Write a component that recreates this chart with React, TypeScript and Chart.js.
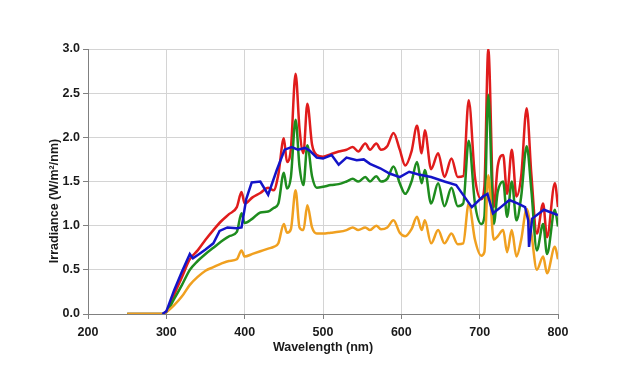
import React, { useEffect, useRef } from "react";
import { Chart, registerables } from "chart.js";

Chart.register(...registerables);

// Shared wavelength grid (nm) for the three spectral series
const wavelengths = [
  250, 280, 295, 300, 310, 320, 330, 340, 350, 360, 370, 380, 390, 396, 400, 410,
  420, 430, 437, 443, 450, 454, 459, 465, 470, 475, 480, 486, 492, 500, 510, 520,
  530, 538, 545, 554, 560, 568, 574, 582, 590, 598, 605, 613, 620, 626, 630, 638,
  647, 655, 664, 672, 679, 686, 694, 702, 706, 711, 718, 723, 730, 735, 741, 747,
  753, 760, 766, 773, 781, 786, 796, 800,
];

const redSeries = [
  0, 0, 0, 0.03, 0.22, 0.42, 0.62, 0.72, 0.84, 0.95, 1.05, 1.13, 1.21, 1.38, 1.25, 1.32,
  1.37, 1.43, 1.4, 1.58, 1.99, 1.72, 1.87, 2.72, 2.1, 1.82, 2.38, 1.92, 1.8, 1.78, 1.81, 1.84,
  1.86, 1.89, 1.84, 1.93, 1.86, 1.93, 1.86, 1.9, 2.05, 1.86, 1.68, 1.84, 2.13, 1.82, 2.08, 1.64,
  1.82, 1.55, 1.76, 1.55, 1.56, 2.42, 1.55, 1.3, 1.44, 3.0, 1.21, 1.67, 1.8, 1.36, 1.86, 1.33,
  1.56, 2.33, 1.58, 0.91, 1.25, 0.87, 1.48, 1.21,
];

const greenSeries = [
  0, 0, 0, 0.02, 0.17, 0.33, 0.5, 0.6, 0.68, 0.75, 0.82, 0.88, 0.93, 1.14, 1.03, 1.08,
  1.15, 1.16, 1.2, 1.25, 1.6, 1.42, 1.55, 2.2, 1.67, 1.46, 1.91, 1.56, 1.43, 1.44, 1.46, 1.47,
  1.5, 1.53, 1.5, 1.55, 1.5, 1.56, 1.5, 1.53, 1.67, 1.48, 1.36, 1.5, 1.72, 1.48, 1.63, 1.25,
  1.48, 1.22, 1.43, 1.22, 1.25, 1.96, 1.25, 1.02, 1.1, 2.48, 1.02, 1.38, 1.5, 1.1, 1.5, 1.06,
  1.33, 1.9, 1.4, 0.72, 1.02, 0.68, 1.18, 0.99,
];

const orangeSeries = [
  0, 0, 0, 0.02, 0.1, 0.2, 0.33, 0.42, 0.49, 0.53, 0.57, 0.6, 0.62, 0.72, 0.65, 0.68,
  0.71, 0.74, 0.76, 0.8, 1.02, 0.92, 0.96, 1.4, 0.98, 0.95, 1.23, 0.98, 0.91, 0.91, 0.92, 0.93,
  0.95, 0.98, 0.95, 0.98, 0.95, 1.0, 0.96, 0.98, 1.06, 0.92, 0.88, 0.96, 1.1, 0.95, 1.06, 0.8,
  0.95, 0.8, 0.91, 0.79, 0.8, 1.25, 0.84, 0.66, 0.7, 1.57, 0.84, 0.88, 0.95, 0.7, 0.95, 0.65,
  0.84, 1.19, 0.91, 0.5, 0.65, 0.46, 0.76, 0.62,
];

// Blue series has its own coarser wavelength grid
const blueWavelengths = [
  295, 300, 310, 320, 330, 334, 342, 350, 360, 368, 378, 390, 396, 402, 409, 420,
  430, 441, 451, 460, 468, 477, 483, 492, 500, 511, 520, 530, 543, 552, 560, 573,
  585, 598, 610, 622, 638, 655, 670, 678, 690, 704, 710, 717, 727, 738, 749, 758,
  762, 763, 767, 782, 800,
];

const blueSeries = [
  0, 0.03, 0.27, 0.48, 0.68, 0.63, 0.68, 0.73, 0.8, 0.94, 0.98, 0.97, 0.98, 1.3, 1.49, 1.5,
  1.35, 1.63, 1.86, 1.89, 1.86, 1.88, 1.85, 1.77, 1.76, 1.8, 1.69, 1.77, 1.74, 1.75, 1.7, 1.65,
  1.59, 1.55, 1.61, 1.58, 1.55, 1.5, 1.46, 1.36, 1.21, 1.33, 1.36, 1.14, 1.21, 1.29, 1.25, 1.21,
  1.06, 0.76, 1.08, 1.18, 1.12,
];

const xTicks = [200, 300, 400, 500, 600, 700, 800];
const yTicks = [0, 0.5, 1.0, 1.5, 2.0, 2.5, 3.0];

const FONT = "'Liberation Sans', Arial, sans-serif";

const titlesPlugin = {
  id: "axisTitles",
  afterDraw(chart: any) {
    const ctx = chart.ctx;
    const area = chart.chartArea;
    ctx.save();
    ctx.fillStyle = "#1a1a1a";
    ctx.font = `bold 12.5px ${FONT}`;
    ctx.textAlign = "center";
    ctx.textBaseline = "middle";
    ctx.fillText("Wavelength (nm)", (area.left + area.right) / 2, 347.5);
    ctx.translate(55, 201);
    ctx.rotate(-Math.PI / 2);
    ctx.fillText("Irradiance (W/m²/nm)", 0, 0);
    ctx.restore();
  },
};

export default function App() {
  const canvasRef = useRef<HTMLCanvasElement | null>(null);

  useEffect(() => {
    document.body.style.margin = "0";
    const canvas = canvasRef.current;
    if (!canvas) return;
    const toPts = (xs: number[], ys: number[]) => xs.map((x, i) => ({ x, y: ys[i] }));
    const chart = new Chart(canvas, {
      type: "line",
      data: {
        datasets: [
          {
            label: "Blue",
            data: toPts(blueWavelengths, blueSeries),
            borderColor: "#1414c8",
            borderWidth: 2.5,
            pointRadius: 0,
            tension: 0,
            order: 1,
          },
          {
            label: "Orange",
            data: toPts(wavelengths, orangeSeries),
            borderColor: "#f0a020",
            borderWidth: 2.5,
            pointRadius: 0,
            cubicInterpolationMode: "monotone",
            order: 2,
          },
          {
            label: "Green",
            data: toPts(wavelengths, greenSeries),
            borderColor: "#1e8c1e",
            borderWidth: 2.5,
            pointRadius: 0,
            cubicInterpolationMode: "monotone",
            order: 3,
          },
          {
            label: "Red",
            data: toPts(wavelengths, redSeries),
            borderColor: "#e01c1c",
            borderWidth: 2.5,
            pointRadius: 0,
            cubicInterpolationMode: "monotone",
            order: 4,
          },
        ],
      },
      options: {
        animation: false,
        responsive: false,
        maintainAspectRatio: false,
        layout: { padding: { left: 0, top: 49, right: 82, bottom: 0 } },
        plugins: {
          legend: { display: false },
          tooltip: { enabled: false },
          title: { display: false },
        },
        scales: {
          x: {
            type: "linear",
            min: 200,
            max: 800,
            afterBuildTicks: (scale: any) => {
              scale.ticks = xTicks.map((v) => ({ value: v }));
            },
            afterFit: (scale: any) => {
              scale.height = 71;
            },
            ticks: {
              color: "#1a1a1a",
              padding: 6,
              font: { family: FONT, size: 12.5, weight: "bold" },
              callback: (v: any) => String(v),
            },
            grid: {
              color: "#d4d4d4",
              tickColor: "#808080",
              tickLength: 5,
              lineWidth: 1,
            },
            border: { color: "#808080", width: 1 },
          },
          y: {
            type: "linear",
            min: 0,
            max: 3,
            afterBuildTicks: (scale: any) => {
              scale.ticks = yTicks.map((v) => ({ value: v }));
            },
            afterFit: (scale: any) => {
              scale.width = 88;
            },
            ticks: {
              color: "#1a1a1a",
              padding: 3,
              font: { family: FONT, size: 12.5, weight: "bold" },
              callback: (v: any) => Number(v).toFixed(1),
            },
            grid: {
              color: "#d4d4d4",
              tickColor: "#808080",
              tickLength: 5,
              lineWidth: 1,
            },
            border: { color: "#808080", width: 1 },
          },
        },
      },
      plugins: [titlesPlugin],
    } as any);
    return () => chart.destroy();
  }, []);

  return (
    <div style={{ position: "fixed", left: 0, top: 0, width: 640, height: 385, background: "#fff" }}>
      <canvas ref={canvasRef} width={640} height={385} />
    </div>
  );
}
